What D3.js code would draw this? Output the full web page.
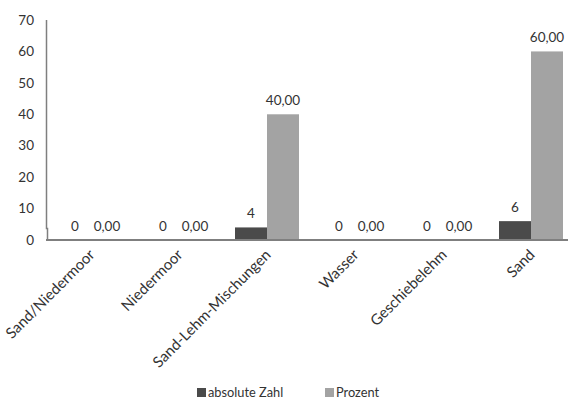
<!DOCTYPE html>
<html><head><meta charset="utf-8">
<script src="https://cdn.jsdelivr.net/npm/d3@7"></script>
<style>body{margin:0;background:#fff}svg{display:block;font-family:Lato,"Open Sans",sans-serif}</style>
</head><body><svg id="c" width="568" height="399"></svg>
<script>
const categories = ["Sand/Niedermoor","Niedermoor","Sand-Lehm-Mischungen","Wasser","Geschiebelehm","Sand"];
const absoluteZahl = [0,0,4,0,0,6];
const prozent = [0,0,40,0,0,60];
const yTicks = [0,10,20,30,40,50,60,70];
const seriesNames = ["absolute Zahl","Prozent"];
const colors = ["#4a4a4a","#a3a3a3"];

const svg = d3.select("#c");
const textColor = "#333333";
const x = d3.scaleBand().domain(categories).range([47,575]).paddingInner(0).paddingOuter(0);
const x1 = d3.scaleBand().domain(seriesNames).range([x.bandwidth()/2-32, x.bandwidth()/2+32]);
const y = d3.scaleLinear().domain([0,70]).range([240,20]);

// y labels
svg.append("g").selectAll("text").data(yTicks).join("text")
  .attr("x",34).attr("y",d=>y(d)).attr("dy","0.35em").attr("text-anchor","end")
  .attr("font-size",13.5).attr("fill",textColor).text(d=>d);

const data = categories.map((c,i)=>({c, vals:[absoluteZahl[i], prozent[i]]}));
const fmt = [d=>String(d), d=>d.toFixed(2).replace(".",",")];

const g = svg.append("g").selectAll("g").data(data).join("g")
  .attr("transform",d=>`translate(${x(d.c)},0)`);
g.selectAll("rect").data(d=>d.vals.map((v,k)=>({v,k}))).join("rect")
  .attr("x",d=>x1(seriesNames[d.k])).attr("width",x1.bandwidth())
  .attr("y",d=>y(d.v)).attr("height",d=>y(0)-y(d.v)).attr("fill",d=>colors[d.k]);
g.selectAll("text").data(d=>d.vals.map((v,k)=>({v,k}))).join("text")
  .attr("x",d=>x1(seriesNames[d.k])+x1.bandwidth()/2).attr("y",d=>y(d.v)-9.5)
  .attr("text-anchor","middle").attr("font-size",13.5).attr("fill",textColor)
  .text(d=>fmt[d.k](d.v));

// axes lines
const axisColor = "#7f7f7f";
svg.append("path").attr("d","M46.5,20V228.5H47.5V240").attr("fill","none").attr("stroke",axisColor).attr("stroke-width",1.5);
svg.append("line").attr("x1",46).attr("x2",568).attr("y1",240).attr("y2",240).attr("stroke",axisColor).attr("stroke-width",2);

// x labels
svg.append("g").selectAll("text").data(categories).join("text")
  .attr("transform",d=>`translate(${x(d)+x.bandwidth()/2+1},252) rotate(-45)`)
  .attr("text-anchor","end").attr("dy","0.35em").attr("font-size",15).attr("fill",textColor).text(d=>d);

// legend
const legX = [197, 325];
const lg = svg.append("g").selectAll("g").data(seriesNames).join("g")
  .attr("transform",(d,i)=>`translate(${legX[i]},388)`);
lg.append("rect").attr("width",9).attr("height",9).attr("fill",(d,i)=>colors[i]);
lg.append("text").attr("x",11).attr("y",4.5).attr("dy","0.35em").attr("font-size",12.8).attr("fill",textColor).text(d=>d);
</script></body></html>
